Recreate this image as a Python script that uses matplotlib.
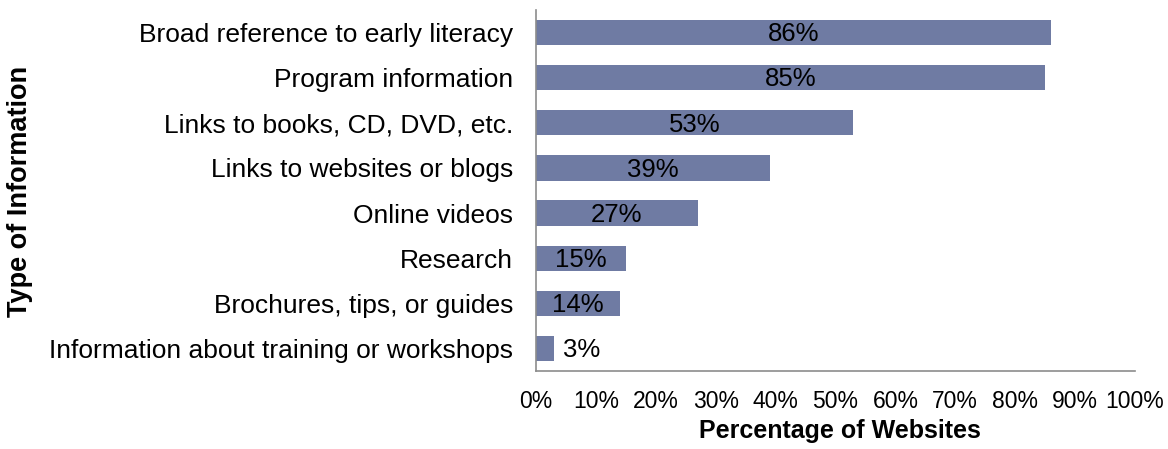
import matplotlib
matplotlib.use("Agg")
import matplotlib.pyplot as plt
from matplotlib.ticker import PercentFormatter

plt.rcParams["font.family"] = ["Liberation Sans", "DejaVu Sans"]

categories = [
    "Broad reference to early literacy",
    "Program information",
    "Links to books, CD, DVD, etc.",
    "Links to websites or blogs",
    "Online videos",
    "Research",
    "Brochures, tips, or guides",
    "Information about training or workshops",
]
values = [86, 85, 53, 39, 27, 15, 14, 3]
xticks = [0, 10, 20, 30, 40, 50, 60, 70, 80, 90, 100]

bar_color = "#6F7BA3"
spine_color = "#8C8C8C"

fig = plt.figure(figsize=(11.68, 4.49), dpi=100)
ax = fig.add_axes([536 / 1168, 1 - 371 / 449, (1135 - 536) / 1168, (371 - 10) / 449])

ypos = list(range(len(categories)))
ax.barh(ypos, values, height=0.56, color=bar_color)
ax.set_ylim(len(categories) - 0.5, -0.5)
ax.set_xlim(0, 100)
ax.set_yticks(ypos)
ax.set_yticklabels(categories, fontsize=19)
ax.set_xticks(xticks)
ax.xaxis.set_major_formatter(PercentFormatter(decimals=0))
ax.tick_params(axis="x", labelsize=16.5, length=0, pad=14)
ax.tick_params(axis="y", length=0, pad=16.5)

# value labels: centred in the bar, outside when the bar is too short
for y, v in zip(ypos, values):
    x = v / 2 if v >= 10 else v + 4.7
    ax.text(x, y + 0.04, f"{v}%", ha="center", va="center", fontsize=18.5, color="black")

for side in ["top", "right"]:
    ax.spines[side].set_visible(False)
for side in ["left", "bottom"]:
    ax.spines[side].set_color(spine_color)
    ax.spines[side].set_linewidth(1.2)

ax.set_xlabel("Percentage of Websites", fontsize=18, fontweight="bold")
ax.xaxis.set_label_coords((840 - 536) / (1135 - 536), -48 / 361)
fig.text(20 / 1168, 1 - 191 / 449, "Type of Information", rotation=90,
         ha="center", va="center", fontsize=19.5, fontweight="bold")

fig.savefig("out.png", dpi=100)
